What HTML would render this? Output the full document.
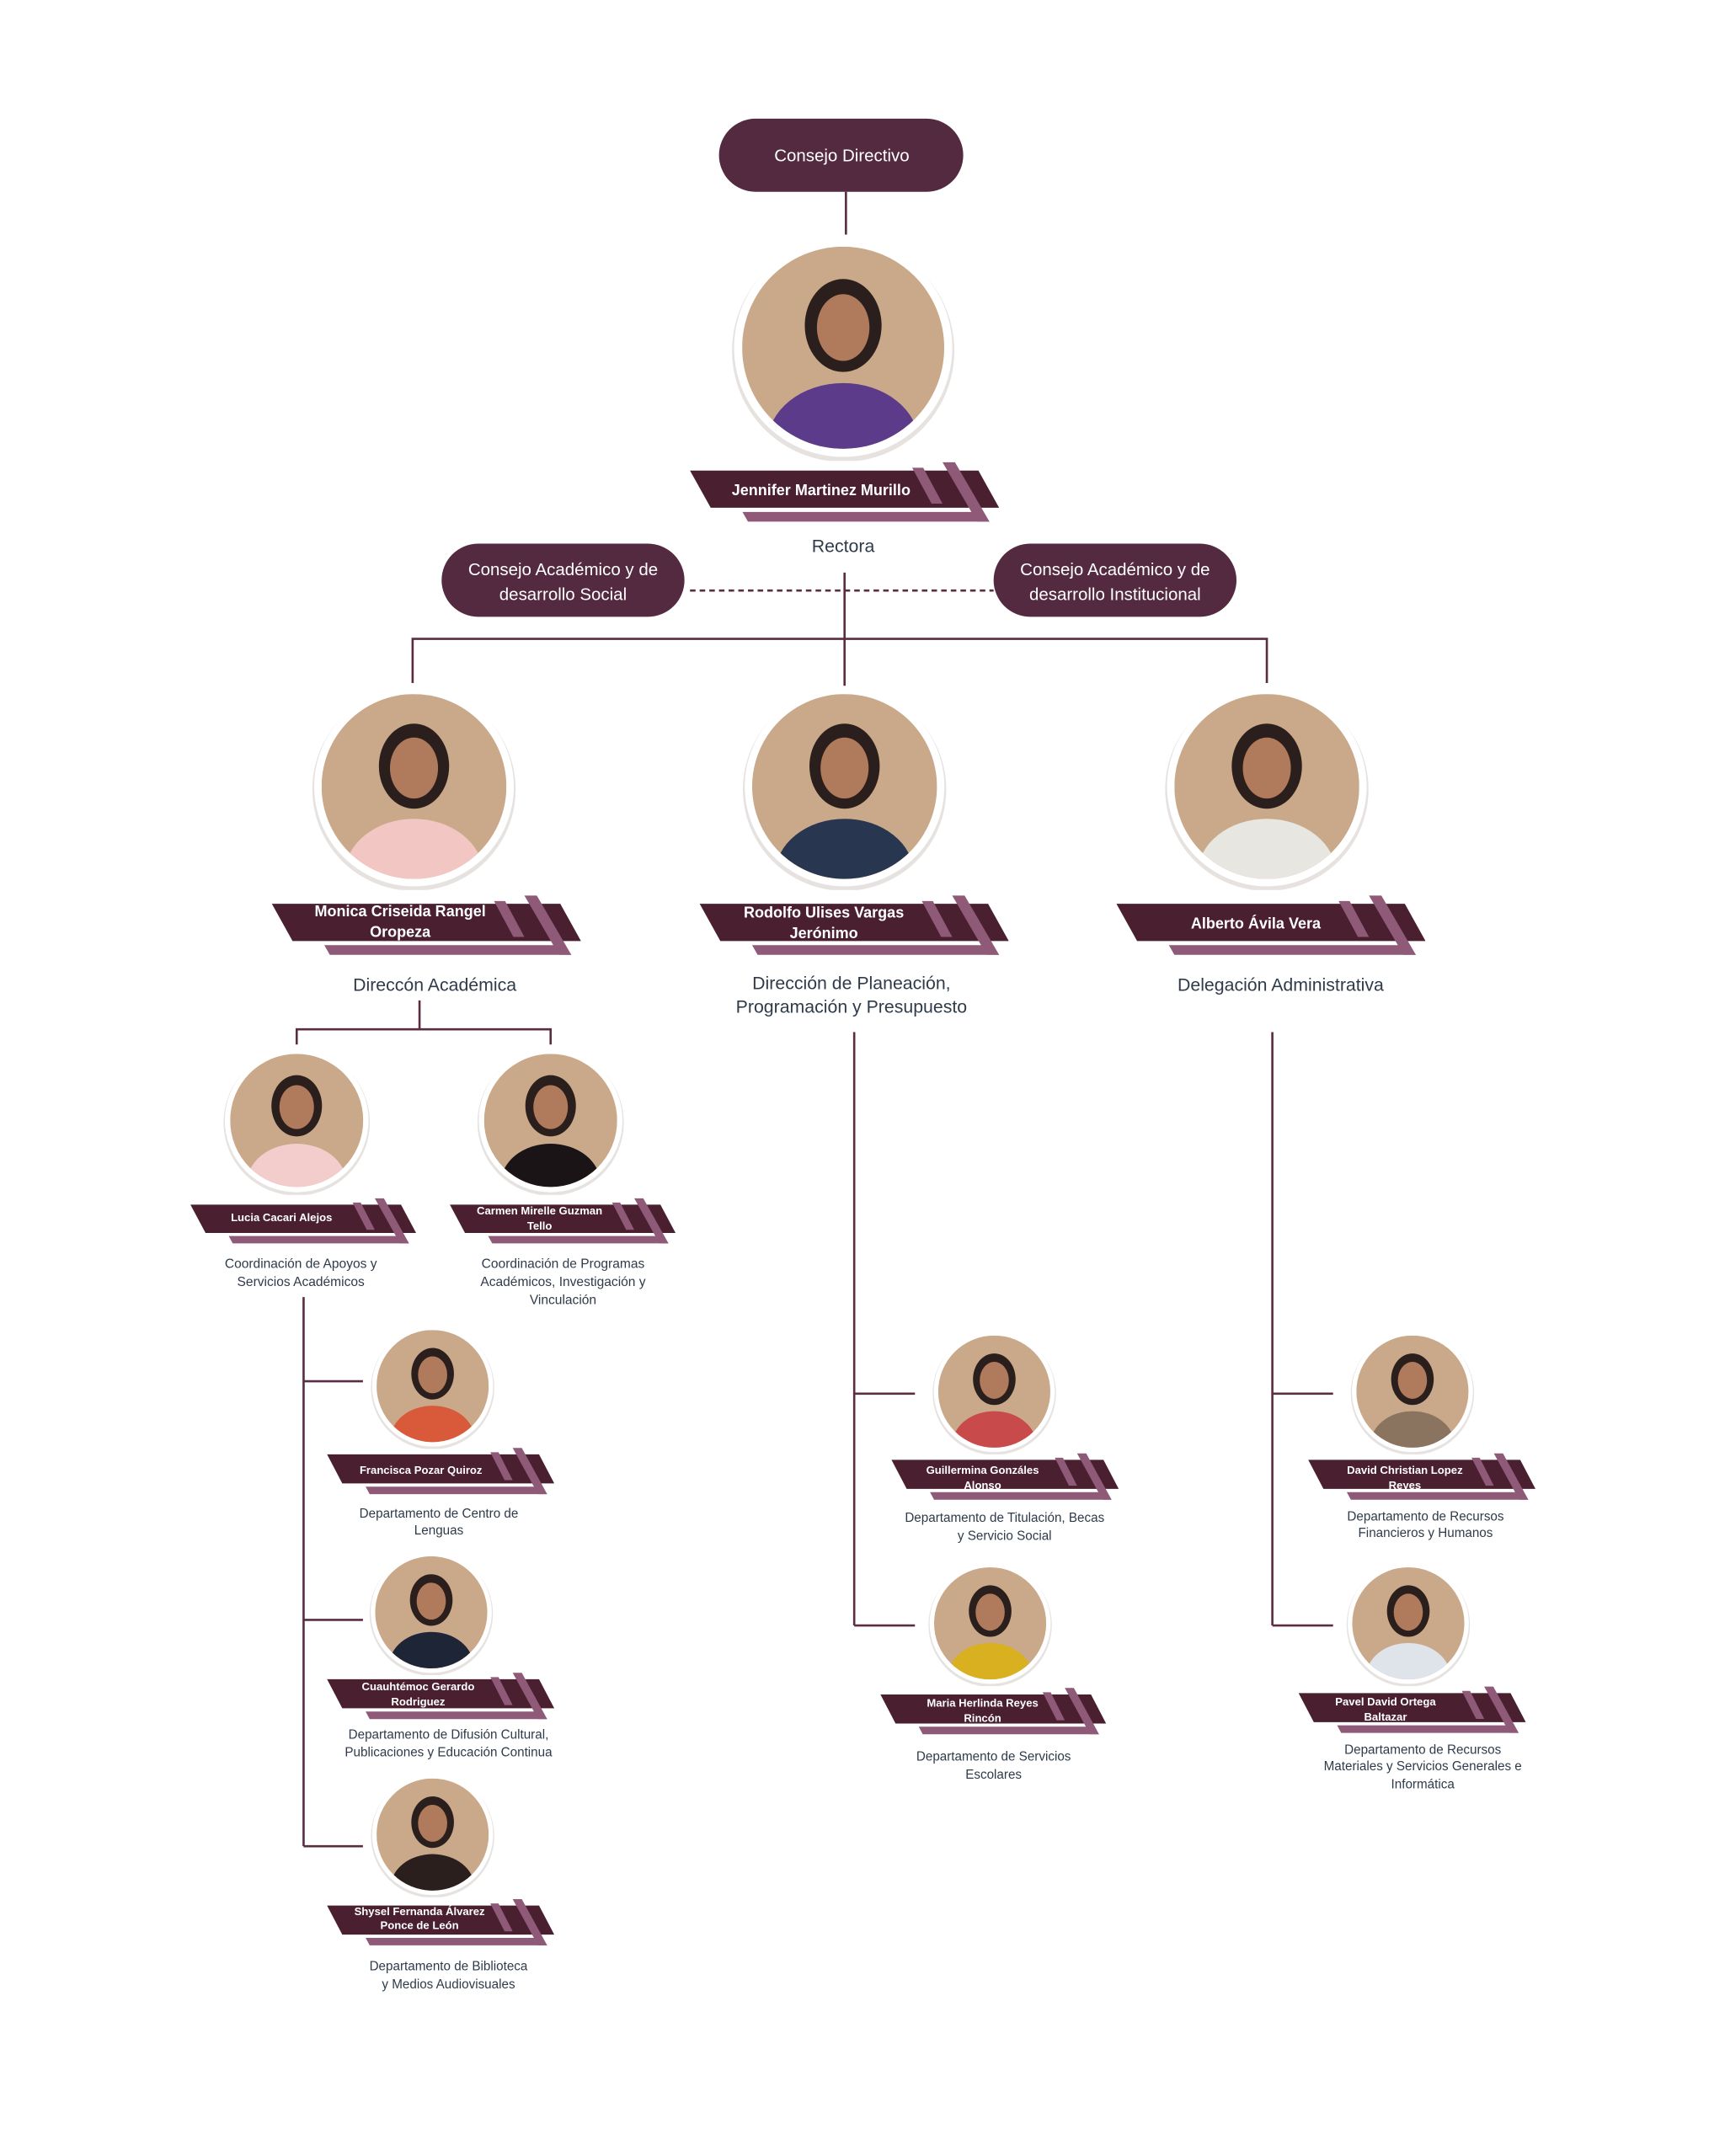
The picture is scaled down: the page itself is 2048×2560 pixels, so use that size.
<!DOCTYPE html>
<html><head><meta charset="utf-8"><style>
html,body{margin:0;padding:0;background:#fff;}
svg{display:block;font-family:"Liberation Sans",sans-serif;}
.t{fill:#2f3b4a;text-anchor:middle;}
.n{fill:#fff;font-weight:bold;text-anchor:middle;}
.p{fill:#fff;text-anchor:middle;font-size:12.5px;}
.l{stroke:#5a2d42;stroke-width:1.6;fill:none;}
</style></head><body>
<svg width="2048" height="2560" viewBox="0 0 1250 1562.5" xmlns="http://www.w3.org/2000/svg">
<defs>
<clipPath id="cc" clipPathUnits="userSpaceOnUse"><circle cx="0" cy="0" r="1"/></clipPath>
<symbol id="ph" viewBox="-1.12 -1.12 2.24 2.24">
 <circle cx="0" cy="0.03" r="1.1" fill="#e6e2e0"/>
 <circle cx="0" cy="0" r="1.08" fill="#fff"/>
 <g clip-path="url(#cc)">
  <rect x="-1" y="-1" width="2" height="2" fill="#c9a989"/>
  <ellipse cx="0" cy="-0.22" rx="0.38" ry="0.46" fill="#2a1f1c"/>
  <ellipse cx="0" cy="-0.2" rx="0.26" ry="0.33" fill="#b07a5c"/>
  <ellipse cx="0" cy="0.95" rx="0.75" ry="0.6" fill="currentColor"/>
 </g>
</symbol>
<g id="bn">
 <polygon points="0,0 209,0 224,27 15,27" fill="#4a1f2f"/>
 <polygon points="38,30 212,30 217,37 42,37" fill="#8e5a78"/>
 <polygon points="183,-6 192,-6 217,37 208,37" fill="#8e5a78"/>
 <polygon points="161,-2 169,-2 183,24 175,24" fill="#8e5a78"/>
</g>
</defs>

<!-- connectors -->
<g class="l">
 <line x1="613" y1="139" x2="613" y2="170"/>
 <line x1="500" y1="428" x2="720" y2="428" stroke-dasharray="4,3"/>
 <line x1="612" y1="415" x2="612" y2="497"/>
 <polyline points="299,495 299,463 918,463 918,495"/>
 <polyline points="304,725 304,746"/>
 <polyline points="215,757 215,746 399,746 399,757"/>
 <line x1="220" y1="940" x2="220" y2="1338"/>
 <line x1="220" y1="1001" x2="263" y2="1001"/>
 <line x1="220" y1="1174" x2="263" y2="1174"/>
 <line x1="220" y1="1338" x2="263" y2="1338"/>
 <line x1="619" y1="748" x2="619" y2="1178"/>
 <line x1="619" y1="1010" x2="663" y2="1010"/>
 <line x1="619" y1="1178" x2="663" y2="1178"/>
 <line x1="922" y1="748" x2="922" y2="1178"/>
 <line x1="922" y1="1010" x2="966" y2="1010"/>
 <line x1="922" y1="1178" x2="966" y2="1178"/>
</g>

<!-- pills -->
<rect x="521" y="86" width="177" height="53" rx="26.5" fill="#542a40"/>
<text class="p" x="610" y="117">Consejo Directivo</text>
<rect x="320" y="394" width="176" height="53" rx="26.5" fill="#542a40"/>
<text class="p" x="408" y="417">Consejo Académico y de</text>
<text class="p" x="408" y="435">desarrollo Social</text>
<rect x="720" y="394" width="176" height="53" rx="26.5" fill="#542a40"/>
<text class="p" x="808" y="417">Consejo Académico y de</text>
<text class="p" x="808" y="435">desarrollo Institucional</text>

<!-- photos -->
<use href="#ph" x="529" y="170" width="164" height="164" style="color:#5b3b8a"/>
<use href="#ph" x="225" y="495" width="150" height="150" style="color:#f2c6c2"/>
<use href="#ph" x="537" y="495" width="150" height="150" style="color:#283650"/>
<use href="#ph" x="843" y="495" width="150" height="150" style="color:#e8e6e0"/>
<use href="#ph" x="161" y="758" width="108" height="108" style="color:#f3cccc"/>
<use href="#ph" x="345" y="758" width="108" height="108" style="color:#1a1416"/>
<use href="#ph" x="268" y="959" width="91" height="91" style="color:#d95a3a"/>
<use href="#ph" x="267" y="1123" width="91" height="91" style="color:#1e2536"/>
<use href="#ph" x="268" y="1284" width="91" height="91" style="color:#2a1f1c"/>
<use href="#ph" x="675" y="963" width="91" height="91" style="color:#c84a4a"/>
<use href="#ph" x="672" y="1131" width="91" height="91" style="color:#d9b020"/>
<use href="#ph" x="978" y="963" width="91" height="91" style="color:#8a7460"/>
<use href="#ph" x="975" y="1131" width="91" height="91" style="color:#dfe4ea"/>

<!-- banners -->
<use href="#bn" transform="translate(500,341)"/>
<use href="#bn" transform="translate(197,655)"/>
<use href="#bn" transform="translate(507,655)"/>
<use href="#bn" transform="translate(809,655)"/>
<use href="#bn" transform="translate(138,873) scale(0.73,0.76)"/>
<use href="#bn" transform="translate(326,873) scale(0.73,0.76)"/>
<use href="#bn" transform="translate(237,1054) scale(0.735,0.78)"/>
<use href="#bn" transform="translate(237,1217) scale(0.735,0.78)"/>
<use href="#bn" transform="translate(237,1381) scale(0.735,0.78)"/>
<use href="#bn" transform="translate(646,1058) scale(0.735,0.78)"/>
<use href="#bn" transform="translate(638,1228) scale(0.73,0.78)"/>
<use href="#bn" transform="translate(948,1058) scale(0.735,0.78)"/>
<use href="#bn" transform="translate(941,1227) scale(0.735,0.78)"/>

<!-- names -->
<g font-size="11">
 <text class="n" x="595" y="359">Jennifer Martinez Murillo</text>
 <text class="n" x="290" y="664">Monica Criseida Rangel</text>
 <text class="n" x="290" y="679">Oropeza</text>
 <text class="n" x="597" y="665">Rodolfo Ulises Vargas</text>
 <text class="n" x="597" y="680">Jerónimo</text>
 <text class="n" x="910" y="673">Alberto Ávila Vera</text>
</g>
<g font-size="8">
 <text class="n" x="204" y="885">Lucia Cacari Alejos</text>
 <text class="n" x="391" y="880">Carmen Mirelle Guzman</text>
 <text class="n" x="391" y="891">Tello</text>
 <text class="n" x="305" y="1068">Francisca Pozar Quiroz</text>
 <text class="n" x="303" y="1225">Cuauhtémoc Gerardo</text>
 <text class="n" x="303" y="1236">Rodriguez</text>
 <text class="n" x="304" y="1388">Shysel Fernanda Álvarez</text>
 <text class="n" x="304" y="1398">Ponce de León</text>
 <text class="n" x="712" y="1068">Guillermina Gonzáles</text>
 <text class="n" x="712" y="1079">Alonso</text>
 <text class="n" x="712" y="1237">Maria Herlinda Reyes</text>
 <text class="n" x="712" y="1248">Rincón</text>
 <text class="n" x="1018" y="1068">David Christian Lopez</text>
 <text class="n" x="1018" y="1079">Reyes</text>
 <text class="n" x="1004" y="1236">Pavel David Ortega</text>
 <text class="n" x="1004" y="1247">Baltazar</text>
</g>

<!-- titles -->
<g font-size="13">
 <text class="t" x="611" y="400">Rectora</text>
 <text class="t" x="315" y="718">Direccón Académica</text>
 <text class="t" x="617" y="717">Dirección de Planeación,</text>
 <text class="t" x="617" y="734">Programación y Presupuesto</text>
 <text class="t" x="928" y="718">Delegación Administrativa</text>
</g>
<g font-size="9.5">
 <text class="t" x="218" y="919">Coordinación de Apoyos y</text>
 <text class="t" x="218" y="932">Servicios Académicos</text>
 <text class="t" x="408" y="919">Coordinación de Programas</text>
 <text class="t" x="408" y="932">Académicos, Investigación y</text>
 <text class="t" x="408" y="945">Vinculación</text>
</g>
<g font-size="9.3">
 <text class="t" x="318" y="1100">Departamento de Centro de</text>
 <text class="t" x="318" y="1112">Lenguas</text>
 <text class="t" x="325" y="1260">Departamento de Difusión Cultural,</text>
 <text class="t" x="325" y="1273">Publicaciones y Educación Continua</text>
 <text class="t" x="325" y="1428">Departamento de Biblioteca</text>
 <text class="t" x="325" y="1441">y Medios Audiovisuales</text>
 <text class="t" x="728" y="1103">Departamento de Titulación, Becas</text>
 <text class="t" x="728" y="1116">y Servicio Social</text>
 <text class="t" x="720" y="1276">Departamento de Servicios</text>
 <text class="t" x="720" y="1289">Escolares</text>
 <text class="t" x="1033" y="1102">Departamento de Recursos</text>
 <text class="t" x="1033" y="1114">Financieros y Humanos</text>
 <text class="t" x="1031" y="1271">Departamento de Recursos</text>
 <text class="t" x="1031" y="1283">Materiales y Servicios Generales e</text>
 <text class="t" x="1031" y="1296">Informática</text>
</g>
</svg>
</body></html>
